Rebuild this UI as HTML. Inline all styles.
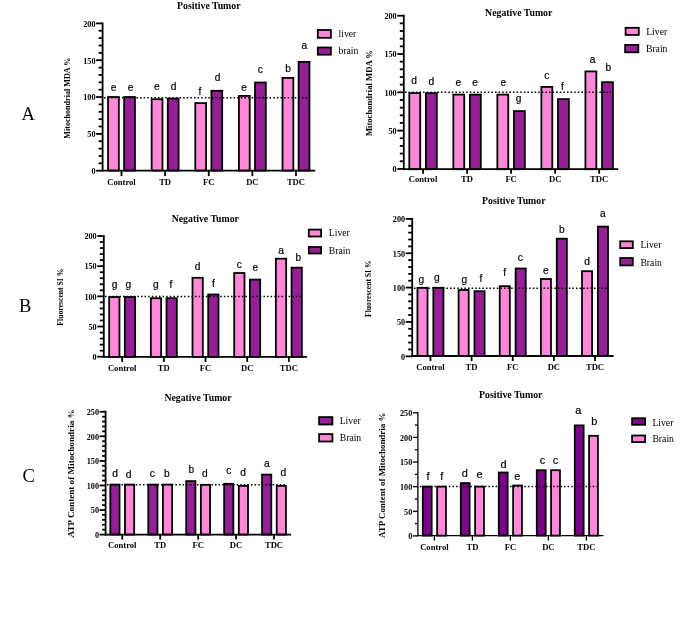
<!DOCTYPE html>
<html><head><meta charset="utf-8">
<style>
html,body{margin:0;padding:0;background:#fff;}
body{width:685px;height:643px;overflow:hidden;}
svg{display:block;will-change:transform;filter:blur(0.35px);}
.tk{font-family:'Liberation Serif', serif;font-weight:bold;font-size:8.2px;fill:#000;}
.cat{font-family:'Liberation Serif', serif;font-weight:bold;font-size:8.6px;fill:#000;}
.let{font-family:'Liberation Sans', sans-serif;font-size:10.2px;fill:#000;stroke:#000;stroke-width:0.2px;}
.ttl{font-family:'Liberation Serif', serif;font-weight:bold;font-size:9.8px;fill:#000;}
.yl{font-family:'Liberation Serif', serif;font-weight:bold;fill:#000;}
.leg{font-family:'Liberation Serif', serif;font-size:9.7px;fill:#000;}
.pan{font-family:'Liberation Serif', serif;font-size:18.5px;fill:#000;}
</style></head>
<body>
<svg width="685" height="643" viewBox="0 0 685 643">
<rect x="108.05" y="97" width="10.8" height="73.6" fill="#FF88D8" stroke="#000" stroke-width="1.8"/>
<rect x="124.15" y="97" width="10.8" height="73.6" fill="#952096" stroke="#000" stroke-width="1.8"/>
<rect x="151.67" y="99.2" width="10.8" height="71.4" fill="#FF88D8" stroke="#000" stroke-width="1.8"/>
<rect x="167.77" y="98.6" width="10.8" height="72" fill="#952096" stroke="#000" stroke-width="1.8"/>
<rect x="195.29" y="103.1" width="10.8" height="67.5" fill="#FF88D8" stroke="#000" stroke-width="1.8"/>
<rect x="211.39" y="90.8" width="10.8" height="79.8" fill="#952096" stroke="#000" stroke-width="1.8"/>
<rect x="238.91" y="95.9" width="10.8" height="74.7" fill="#FF88D8" stroke="#000" stroke-width="1.8"/>
<rect x="255.01" y="82.5" width="10.8" height="88.1" fill="#952096" stroke="#000" stroke-width="1.8"/>
<rect x="282.53" y="77.9" width="10.8" height="92.7" fill="#FF88D8" stroke="#000" stroke-width="1.8"/>
<rect x="298.63" y="61.9" width="10.8" height="108.7" fill="#952096" stroke="#000" stroke-width="1.8"/>
<line x1="104" y1="97.7" x2="309.6" y2="97.7" stroke="#000" stroke-width="1.5" stroke-dasharray="1.5 2.1"/>
<line x1="102.6" y1="22.5" x2="102.6" y2="171.5" stroke="#000" stroke-width="1.8"/>
<line x1="101.7" y1="170.6" x2="315.3" y2="170.6" stroke="#000" stroke-width="1.8"/>
<line x1="96.1" y1="170.7" x2="102.6" y2="170.7" stroke="#000" stroke-width="1.8"/>
<text x="95.5" y="174" text-anchor="end" class="tk">0</text>
<line x1="98.6" y1="163.33" x2="102.6" y2="163.33" stroke="#000" stroke-width="1.8"/>
<line x1="98.6" y1="155.97" x2="102.6" y2="155.97" stroke="#000" stroke-width="1.8"/>
<line x1="98.6" y1="148.6" x2="102.6" y2="148.6" stroke="#000" stroke-width="1.8"/>
<line x1="98.6" y1="141.24" x2="102.6" y2="141.24" stroke="#000" stroke-width="1.8"/>
<line x1="96.1" y1="133.88" x2="102.6" y2="133.88" stroke="#000" stroke-width="1.8"/>
<text x="95.5" y="137.18" text-anchor="end" class="tk">50</text>
<line x1="98.6" y1="126.51" x2="102.6" y2="126.51" stroke="#000" stroke-width="1.8"/>
<line x1="98.6" y1="119.14" x2="102.6" y2="119.14" stroke="#000" stroke-width="1.8"/>
<line x1="98.6" y1="111.78" x2="102.6" y2="111.78" stroke="#000" stroke-width="1.8"/>
<line x1="98.6" y1="104.41" x2="102.6" y2="104.41" stroke="#000" stroke-width="1.8"/>
<line x1="96.1" y1="97.05" x2="102.6" y2="97.05" stroke="#000" stroke-width="1.8"/>
<text x="95.5" y="100.35" text-anchor="end" class="tk">100</text>
<line x1="98.6" y1="89.68" x2="102.6" y2="89.68" stroke="#000" stroke-width="1.8"/>
<line x1="98.6" y1="82.32" x2="102.6" y2="82.32" stroke="#000" stroke-width="1.8"/>
<line x1="98.6" y1="74.95" x2="102.6" y2="74.95" stroke="#000" stroke-width="1.8"/>
<line x1="98.6" y1="67.59" x2="102.6" y2="67.59" stroke="#000" stroke-width="1.8"/>
<line x1="96.1" y1="60.22" x2="102.6" y2="60.22" stroke="#000" stroke-width="1.8"/>
<text x="95.5" y="63.52" text-anchor="end" class="tk">150</text>
<line x1="98.6" y1="52.86" x2="102.6" y2="52.86" stroke="#000" stroke-width="1.8"/>
<line x1="98.6" y1="45.49" x2="102.6" y2="45.49" stroke="#000" stroke-width="1.8"/>
<line x1="98.6" y1="38.13" x2="102.6" y2="38.13" stroke="#000" stroke-width="1.8"/>
<line x1="98.6" y1="30.76" x2="102.6" y2="30.76" stroke="#000" stroke-width="1.8"/>
<line x1="96.1" y1="23.4" x2="102.6" y2="23.4" stroke="#000" stroke-width="1.8"/>
<text x="95.5" y="26.7" text-anchor="end" class="tk">200</text>
<line x1="121.5" y1="170.6" x2="121.5" y2="176.1" stroke="#000" stroke-width="1.8"/>
<text x="121.5" y="184.9" text-anchor="middle" class="cat">Control</text>
<line x1="165.12" y1="170.6" x2="165.12" y2="176.1" stroke="#000" stroke-width="1.8"/>
<text x="165.12" y="184.9" text-anchor="middle" class="cat">TD</text>
<line x1="208.74" y1="170.6" x2="208.74" y2="176.1" stroke="#000" stroke-width="1.8"/>
<text x="208.74" y="184.9" text-anchor="middle" class="cat">FC</text>
<line x1="252.36" y1="170.6" x2="252.36" y2="176.1" stroke="#000" stroke-width="1.8"/>
<text x="252.36" y="184.9" text-anchor="middle" class="cat">DC</text>
<line x1="295.98" y1="170.6" x2="295.98" y2="176.1" stroke="#000" stroke-width="1.8"/>
<text x="295.98" y="184.9" text-anchor="middle" class="cat">TDC</text>
<text x="113.7" y="91.3" text-anchor="middle" class="let">e</text>
<text x="130.7" y="90.5" text-anchor="middle" class="let">e</text>
<text x="156.9" y="90.1" text-anchor="middle" class="let">e</text>
<text x="173.6" y="89.9" text-anchor="middle" class="let">d</text>
<text x="200" y="94.7" text-anchor="middle" class="let">f</text>
<text x="217.7" y="81" text-anchor="middle" class="let">d</text>
<text x="244" y="90.8" text-anchor="middle" class="let">e</text>
<text x="260.4" y="73.1" text-anchor="middle" class="let">c</text>
<text x="288.1" y="71.8" text-anchor="middle" class="let">b</text>
<text x="304.3" y="48.9" text-anchor="middle" class="let">a</text>
<text x="177.1" y="8.9" class="ttl">Positive Tumor</text>
<text transform="translate(70.27 98.2) rotate(-90)" text-anchor="middle" class="yl" style="font-size:8.1px">Mitochondrial MDA %</text>
<rect x="317.8" y="30" width="13.1" height="7.8" fill="#FF88D8" stroke="#000" stroke-width="1.8"/>
<text x="338.5" y="36.9" class="leg">liver</text>
<rect x="317.8" y="47.5" width="13.1" height="7.2" fill="#952096" stroke="#000" stroke-width="1.8"/>
<text x="338.5" y="53.9" class="leg">brain</text>
<rect x="409.3" y="93.1" width="10.9" height="76.1" fill="#FF88D8" stroke="#000" stroke-width="1.8"/>
<rect x="425.9" y="93.1" width="10.9" height="76.1" fill="#952096" stroke="#000" stroke-width="1.8"/>
<rect x="453.33" y="94.6" width="10.9" height="74.6" fill="#FF88D8" stroke="#000" stroke-width="1.8"/>
<rect x="469.93" y="94.6" width="10.9" height="74.6" fill="#952096" stroke="#000" stroke-width="1.8"/>
<rect x="497.36" y="94.6" width="10.9" height="74.6" fill="#FF88D8" stroke="#000" stroke-width="1.8"/>
<rect x="513.96" y="111.1" width="10.9" height="58.1" fill="#952096" stroke="#000" stroke-width="1.8"/>
<rect x="541.39" y="86.9" width="10.9" height="82.3" fill="#FF88D8" stroke="#000" stroke-width="1.8"/>
<rect x="557.99" y="99.1" width="10.9" height="70.1" fill="#952096" stroke="#000" stroke-width="1.8"/>
<rect x="585.42" y="71.4" width="10.9" height="97.8" fill="#FF88D8" stroke="#000" stroke-width="1.8"/>
<rect x="602.02" y="82.2" width="10.9" height="87" fill="#952096" stroke="#000" stroke-width="1.8"/>
<line x1="405" y1="92.3" x2="611" y2="92.3" stroke="#000" stroke-width="1.5" stroke-dasharray="1.5 2.1"/>
<line x1="403.8" y1="14.8" x2="403.8" y2="170.1" stroke="#000" stroke-width="1.8"/>
<line x1="402.9" y1="169.2" x2="618.2" y2="169.2" stroke="#000" stroke-width="1.8"/>
<line x1="397.3" y1="168.9" x2="403.8" y2="168.9" stroke="#000" stroke-width="1.8"/>
<text x="396.7" y="172.2" text-anchor="end" class="tk">0</text>
<line x1="399.8" y1="161.24" x2="403.8" y2="161.24" stroke="#000" stroke-width="1.8"/>
<line x1="399.8" y1="153.58" x2="403.8" y2="153.58" stroke="#000" stroke-width="1.8"/>
<line x1="399.8" y1="145.92" x2="403.8" y2="145.92" stroke="#000" stroke-width="1.8"/>
<line x1="399.8" y1="138.26" x2="403.8" y2="138.26" stroke="#000" stroke-width="1.8"/>
<line x1="397.3" y1="130.6" x2="403.8" y2="130.6" stroke="#000" stroke-width="1.8"/>
<text x="396.7" y="133.9" text-anchor="end" class="tk">50</text>
<line x1="399.8" y1="122.94" x2="403.8" y2="122.94" stroke="#000" stroke-width="1.8"/>
<line x1="399.8" y1="115.28" x2="403.8" y2="115.28" stroke="#000" stroke-width="1.8"/>
<line x1="399.8" y1="107.62" x2="403.8" y2="107.62" stroke="#000" stroke-width="1.8"/>
<line x1="399.8" y1="99.96" x2="403.8" y2="99.96" stroke="#000" stroke-width="1.8"/>
<line x1="397.3" y1="92.3" x2="403.8" y2="92.3" stroke="#000" stroke-width="1.8"/>
<text x="396.7" y="95.6" text-anchor="end" class="tk">100</text>
<line x1="399.8" y1="84.64" x2="403.8" y2="84.64" stroke="#000" stroke-width="1.8"/>
<line x1="399.8" y1="76.98" x2="403.8" y2="76.98" stroke="#000" stroke-width="1.8"/>
<line x1="399.8" y1="69.32" x2="403.8" y2="69.32" stroke="#000" stroke-width="1.8"/>
<line x1="399.8" y1="61.66" x2="403.8" y2="61.66" stroke="#000" stroke-width="1.8"/>
<line x1="397.3" y1="54" x2="403.8" y2="54" stroke="#000" stroke-width="1.8"/>
<text x="396.7" y="57.3" text-anchor="end" class="tk">150</text>
<line x1="399.8" y1="46.34" x2="403.8" y2="46.34" stroke="#000" stroke-width="1.8"/>
<line x1="399.8" y1="38.68" x2="403.8" y2="38.68" stroke="#000" stroke-width="1.8"/>
<line x1="399.8" y1="31.02" x2="403.8" y2="31.02" stroke="#000" stroke-width="1.8"/>
<line x1="399.8" y1="23.36" x2="403.8" y2="23.36" stroke="#000" stroke-width="1.8"/>
<line x1="397.3" y1="15.7" x2="403.8" y2="15.7" stroke="#000" stroke-width="1.8"/>
<text x="396.7" y="19" text-anchor="end" class="tk">200</text>
<line x1="423.05" y1="169.2" x2="423.05" y2="173.7" stroke="#000" stroke-width="1.8"/>
<text x="423.05" y="181.9" text-anchor="middle" class="cat">Control</text>
<line x1="467.08" y1="169.2" x2="467.08" y2="173.7" stroke="#000" stroke-width="1.8"/>
<text x="467.08" y="181.9" text-anchor="middle" class="cat">TD</text>
<line x1="511.11" y1="169.2" x2="511.11" y2="173.7" stroke="#000" stroke-width="1.8"/>
<text x="511.11" y="181.9" text-anchor="middle" class="cat">FC</text>
<line x1="555.14" y1="169.2" x2="555.14" y2="173.7" stroke="#000" stroke-width="1.8"/>
<text x="555.14" y="181.9" text-anchor="middle" class="cat">DC</text>
<line x1="599.17" y1="169.2" x2="599.17" y2="173.7" stroke="#000" stroke-width="1.8"/>
<text x="599.17" y="181.9" text-anchor="middle" class="cat">TDC</text>
<text x="414.2" y="84" text-anchor="middle" class="let">d</text>
<text x="431.3" y="84.9" text-anchor="middle" class="let">d</text>
<text x="458.3" y="86.3" text-anchor="middle" class="let">e</text>
<text x="475" y="86.3" text-anchor="middle" class="let">e</text>
<text x="503.4" y="85.9" text-anchor="middle" class="let">e</text>
<text x="518.6" y="101.5" text-anchor="middle" class="let">g</text>
<text x="546.9" y="78.8" text-anchor="middle" class="let">c</text>
<text x="562.3" y="90" text-anchor="middle" class="let">f</text>
<text x="592.7" y="62.5" text-anchor="middle" class="let">a</text>
<text x="608.4" y="70.5" text-anchor="middle" class="let">b</text>
<text x="485.1" y="15.8" class="ttl">Negative Tumor</text>
<text transform="translate(372.44 93.1) rotate(-90)" text-anchor="middle" class="yl" style="font-size:8.6px">Mitochondrial MDA %</text>
<rect x="625.6" y="27.8" width="13.2" height="7.1" fill="#FF88D8" stroke="#000" stroke-width="1.8"/>
<text x="646.2" y="34.8" class="leg">Liver</text>
<rect x="625.1" y="44.9" width="13.2" height="7.4" fill="#952096" stroke="#000" stroke-width="1.8"/>
<text x="645.9" y="51.9" class="leg">Brain</text>
<rect x="109.15" y="297" width="10.3" height="59.9" fill="#FF88D8" stroke="#000" stroke-width="1.8"/>
<rect x="124.85" y="297" width="10.3" height="59.9" fill="#952096" stroke="#000" stroke-width="1.8"/>
<rect x="150.83" y="298.2" width="10.3" height="58.7" fill="#FF88D8" stroke="#000" stroke-width="1.8"/>
<rect x="166.53" y="298.2" width="10.3" height="58.7" fill="#952096" stroke="#000" stroke-width="1.8"/>
<rect x="192.51" y="277.8" width="10.3" height="79.1" fill="#FF88D8" stroke="#000" stroke-width="1.8"/>
<rect x="208.21" y="294.5" width="10.3" height="62.4" fill="#952096" stroke="#000" stroke-width="1.8"/>
<rect x="234.19" y="273" width="10.3" height="83.9" fill="#FF88D8" stroke="#000" stroke-width="1.8"/>
<rect x="249.89" y="279.6" width="10.3" height="77.3" fill="#952096" stroke="#000" stroke-width="1.8"/>
<rect x="275.87" y="258.7" width="10.3" height="98.2" fill="#FF88D8" stroke="#000" stroke-width="1.8"/>
<rect x="291.57" y="267.7" width="10.3" height="89.2" fill="#952096" stroke="#000" stroke-width="1.8"/>
<line x1="105" y1="296.4" x2="300.5" y2="296.4" stroke="#000" stroke-width="1.5" stroke-dasharray="1.5 2.1"/>
<line x1="103.8" y1="235.1" x2="103.8" y2="357.8" stroke="#000" stroke-width="1.8"/>
<line x1="102.9" y1="356.9" x2="307.1" y2="356.9" stroke="#000" stroke-width="1.8"/>
<line x1="97.3" y1="356.7" x2="103.8" y2="356.7" stroke="#000" stroke-width="1.8"/>
<text x="96.7" y="360" text-anchor="end" class="tk">0</text>
<line x1="99.8" y1="350.66" x2="103.8" y2="350.66" stroke="#000" stroke-width="1.8"/>
<line x1="99.8" y1="344.63" x2="103.8" y2="344.63" stroke="#000" stroke-width="1.8"/>
<line x1="99.8" y1="338.59" x2="103.8" y2="338.59" stroke="#000" stroke-width="1.8"/>
<line x1="99.8" y1="332.56" x2="103.8" y2="332.56" stroke="#000" stroke-width="1.8"/>
<line x1="97.3" y1="326.52" x2="103.8" y2="326.52" stroke="#000" stroke-width="1.8"/>
<text x="96.7" y="329.82" text-anchor="end" class="tk">50</text>
<line x1="99.8" y1="320.49" x2="103.8" y2="320.49" stroke="#000" stroke-width="1.8"/>
<line x1="99.8" y1="314.45" x2="103.8" y2="314.45" stroke="#000" stroke-width="1.8"/>
<line x1="99.8" y1="308.42" x2="103.8" y2="308.42" stroke="#000" stroke-width="1.8"/>
<line x1="99.8" y1="302.38" x2="103.8" y2="302.38" stroke="#000" stroke-width="1.8"/>
<line x1="97.3" y1="296.35" x2="103.8" y2="296.35" stroke="#000" stroke-width="1.8"/>
<text x="96.7" y="299.65" text-anchor="end" class="tk">100</text>
<line x1="99.8" y1="290.31" x2="103.8" y2="290.31" stroke="#000" stroke-width="1.8"/>
<line x1="99.8" y1="284.28" x2="103.8" y2="284.28" stroke="#000" stroke-width="1.8"/>
<line x1="99.8" y1="278.25" x2="103.8" y2="278.25" stroke="#000" stroke-width="1.8"/>
<line x1="99.8" y1="272.21" x2="103.8" y2="272.21" stroke="#000" stroke-width="1.8"/>
<line x1="97.3" y1="266.17" x2="103.8" y2="266.17" stroke="#000" stroke-width="1.8"/>
<text x="96.7" y="269.47" text-anchor="end" class="tk">150</text>
<line x1="99.8" y1="260.14" x2="103.8" y2="260.14" stroke="#000" stroke-width="1.8"/>
<line x1="99.8" y1="254.1" x2="103.8" y2="254.1" stroke="#000" stroke-width="1.8"/>
<line x1="99.8" y1="248.07" x2="103.8" y2="248.07" stroke="#000" stroke-width="1.8"/>
<line x1="99.8" y1="242.03" x2="103.8" y2="242.03" stroke="#000" stroke-width="1.8"/>
<line x1="97.3" y1="236" x2="103.8" y2="236" stroke="#000" stroke-width="1.8"/>
<text x="96.7" y="239.3" text-anchor="end" class="tk">200</text>
<line x1="122.15" y1="356.9" x2="122.15" y2="361.9" stroke="#000" stroke-width="1.8"/>
<text x="122.15" y="370.5" text-anchor="middle" class="cat">Control</text>
<line x1="163.83" y1="356.9" x2="163.83" y2="361.9" stroke="#000" stroke-width="1.8"/>
<text x="163.83" y="370.5" text-anchor="middle" class="cat">TD</text>
<line x1="205.51" y1="356.9" x2="205.51" y2="361.9" stroke="#000" stroke-width="1.8"/>
<text x="205.51" y="370.5" text-anchor="middle" class="cat">FC</text>
<line x1="247.19" y1="356.9" x2="247.19" y2="361.9" stroke="#000" stroke-width="1.8"/>
<text x="247.19" y="370.5" text-anchor="middle" class="cat">DC</text>
<line x1="288.87" y1="356.9" x2="288.87" y2="361.9" stroke="#000" stroke-width="1.8"/>
<text x="288.87" y="370.5" text-anchor="middle" class="cat">TDC</text>
<text x="114.6" y="287.6" text-anchor="middle" class="let">g</text>
<text x="128.3" y="287.6" text-anchor="middle" class="let">g</text>
<text x="155.8" y="287.6" text-anchor="middle" class="let">g</text>
<text x="170.9" y="288" text-anchor="middle" class="let">f</text>
<text x="197.5" y="269.6" text-anchor="middle" class="let">d</text>
<text x="213.3" y="287.2" text-anchor="middle" class="let">f</text>
<text x="239.4" y="267.8" text-anchor="middle" class="let">c</text>
<text x="255.3" y="271" text-anchor="middle" class="let">e</text>
<text x="281" y="254.4" text-anchor="middle" class="let">a</text>
<text x="298.4" y="261.1" text-anchor="middle" class="let">b</text>
<text x="171.7" y="221.6" class="ttl">Negative Tumor</text>
<text transform="translate(62.74 297.1) rotate(-90)" text-anchor="middle" class="yl" style="font-size:7.7px">Fluorescent SI %</text>
<rect x="308.8" y="229.6" width="12.3" height="6.9" fill="#FF88D8" stroke="#000" stroke-width="1.8"/>
<text x="328.8" y="236.4" class="leg">Liver</text>
<rect x="308.8" y="247" width="12.3" height="6.5" fill="#952096" stroke="#000" stroke-width="1.8"/>
<text x="328.8" y="254.3" class="leg">Brain</text>
<rect x="417.45" y="287.8" width="10.1" height="68.2" fill="#FF88D8" stroke="#000" stroke-width="1.8"/>
<rect x="433.35" y="287.8" width="10.1" height="68.2" fill="#952096" stroke="#000" stroke-width="1.8"/>
<rect x="458.59" y="290" width="10.1" height="66" fill="#FF88D8" stroke="#000" stroke-width="1.8"/>
<rect x="474.49" y="291.2" width="10.1" height="64.8" fill="#952096" stroke="#000" stroke-width="1.8"/>
<rect x="499.73" y="286.2" width="10.1" height="69.8" fill="#FF88D8" stroke="#000" stroke-width="1.8"/>
<rect x="515.63" y="268.5" width="10.1" height="87.5" fill="#952096" stroke="#000" stroke-width="1.8"/>
<rect x="540.87" y="279" width="10.1" height="77" fill="#FF88D8" stroke="#000" stroke-width="1.8"/>
<rect x="556.77" y="238.7" width="10.1" height="117.3" fill="#952096" stroke="#000" stroke-width="1.8"/>
<rect x="582.01" y="271.2" width="10.1" height="84.8" fill="#FF88D8" stroke="#000" stroke-width="1.8"/>
<rect x="597.91" y="226.6" width="10.1" height="129.4" fill="#952096" stroke="#000" stroke-width="1.8"/>
<line x1="414" y1="288.3" x2="606.5" y2="288.3" stroke="#000" stroke-width="1.5" stroke-dasharray="1.5 2.1"/>
<line x1="412.2" y1="218" x2="412.2" y2="356.9" stroke="#000" stroke-width="1.8"/>
<line x1="411.3" y1="356" x2="613.6" y2="356" stroke="#000" stroke-width="1.8"/>
<line x1="405.7" y1="356.3" x2="412.2" y2="356.3" stroke="#000" stroke-width="1.8"/>
<text x="405.1" y="359.6" text-anchor="end" class="tk">0</text>
<line x1="408.2" y1="349.43" x2="412.2" y2="349.43" stroke="#000" stroke-width="1.8"/>
<line x1="408.2" y1="342.56" x2="412.2" y2="342.56" stroke="#000" stroke-width="1.8"/>
<line x1="408.2" y1="335.69" x2="412.2" y2="335.69" stroke="#000" stroke-width="1.8"/>
<line x1="408.2" y1="328.82" x2="412.2" y2="328.82" stroke="#000" stroke-width="1.8"/>
<line x1="405.7" y1="321.95" x2="412.2" y2="321.95" stroke="#000" stroke-width="1.8"/>
<text x="405.1" y="325.25" text-anchor="end" class="tk">50</text>
<line x1="408.2" y1="315.08" x2="412.2" y2="315.08" stroke="#000" stroke-width="1.8"/>
<line x1="408.2" y1="308.21" x2="412.2" y2="308.21" stroke="#000" stroke-width="1.8"/>
<line x1="408.2" y1="301.34" x2="412.2" y2="301.34" stroke="#000" stroke-width="1.8"/>
<line x1="408.2" y1="294.47" x2="412.2" y2="294.47" stroke="#000" stroke-width="1.8"/>
<line x1="405.7" y1="287.6" x2="412.2" y2="287.6" stroke="#000" stroke-width="1.8"/>
<text x="405.1" y="290.9" text-anchor="end" class="tk">100</text>
<line x1="408.2" y1="280.73" x2="412.2" y2="280.73" stroke="#000" stroke-width="1.8"/>
<line x1="408.2" y1="273.86" x2="412.2" y2="273.86" stroke="#000" stroke-width="1.8"/>
<line x1="408.2" y1="266.99" x2="412.2" y2="266.99" stroke="#000" stroke-width="1.8"/>
<line x1="408.2" y1="260.12" x2="412.2" y2="260.12" stroke="#000" stroke-width="1.8"/>
<line x1="405.7" y1="253.25" x2="412.2" y2="253.25" stroke="#000" stroke-width="1.8"/>
<text x="405.1" y="256.55" text-anchor="end" class="tk">150</text>
<line x1="408.2" y1="246.38" x2="412.2" y2="246.38" stroke="#000" stroke-width="1.8"/>
<line x1="408.2" y1="239.51" x2="412.2" y2="239.51" stroke="#000" stroke-width="1.8"/>
<line x1="408.2" y1="232.64" x2="412.2" y2="232.64" stroke="#000" stroke-width="1.8"/>
<line x1="408.2" y1="225.77" x2="412.2" y2="225.77" stroke="#000" stroke-width="1.8"/>
<line x1="405.7" y1="218.9" x2="412.2" y2="218.9" stroke="#000" stroke-width="1.8"/>
<text x="405.1" y="222.2" text-anchor="end" class="tk">200</text>
<line x1="430.45" y1="356" x2="430.45" y2="361" stroke="#000" stroke-width="1.8"/>
<text x="430.45" y="370.3" text-anchor="middle" class="cat">Control</text>
<line x1="471.59" y1="356" x2="471.59" y2="361" stroke="#000" stroke-width="1.8"/>
<text x="471.59" y="370.3" text-anchor="middle" class="cat">TD</text>
<line x1="512.73" y1="356" x2="512.73" y2="361" stroke="#000" stroke-width="1.8"/>
<text x="512.73" y="370.3" text-anchor="middle" class="cat">FC</text>
<line x1="553.87" y1="356" x2="553.87" y2="361" stroke="#000" stroke-width="1.8"/>
<text x="553.87" y="370.3" text-anchor="middle" class="cat">DC</text>
<line x1="595.01" y1="356" x2="595.01" y2="361" stroke="#000" stroke-width="1.8"/>
<text x="595.01" y="370.3" text-anchor="middle" class="cat">TDC</text>
<text x="421.4" y="282.5" text-anchor="middle" class="let">g</text>
<text x="436.8" y="280.7" text-anchor="middle" class="let">g</text>
<text x="464.3" y="283.3" text-anchor="middle" class="let">g</text>
<text x="481" y="282.4" text-anchor="middle" class="let">f</text>
<text x="504.6" y="275.9" text-anchor="middle" class="let">f</text>
<text x="520.4" y="261.4" text-anchor="middle" class="let">c</text>
<text x="545.9" y="274.1" text-anchor="middle" class="let">e</text>
<text x="561.8" y="232.6" text-anchor="middle" class="let">b</text>
<text x="587.1" y="265.4" text-anchor="middle" class="let">d</text>
<text x="602.9" y="217.4" text-anchor="middle" class="let">a</text>
<text x="482.1" y="203.8" class="ttl">Positive Tumor</text>
<text transform="translate(371.21 288.7) rotate(-90)" text-anchor="middle" class="yl" style="font-size:7.6px">Fluorescent SI %</text>
<rect x="620.2" y="241.3" width="12.6" height="6.8" fill="#FF88D8" stroke="#000" stroke-width="1.8"/>
<text x="640.4" y="248" class="leg">Liver</text>
<rect x="620.2" y="258" width="12.6" height="7.4" fill="#952096" stroke="#000" stroke-width="1.8"/>
<text x="640.4" y="265.5" class="leg">Brain</text>
<rect x="110.33" y="484.6" width="9.2" height="50" fill="#952096" stroke="#000" stroke-width="1.8"/>
<rect x="124.98" y="484.6" width="9.2" height="50" fill="#FF88D8" stroke="#000" stroke-width="1.8"/>
<rect x="148.27" y="484.6" width="9.2" height="50" fill="#952096" stroke="#000" stroke-width="1.8"/>
<rect x="162.92" y="484.6" width="9.2" height="50" fill="#FF88D8" stroke="#000" stroke-width="1.8"/>
<rect x="186.21" y="481.1" width="9.2" height="53.5" fill="#952096" stroke="#000" stroke-width="1.8"/>
<rect x="200.86" y="484.8" width="9.2" height="49.8" fill="#FF88D8" stroke="#000" stroke-width="1.8"/>
<rect x="224.15" y="483.8" width="9.2" height="50.8" fill="#952096" stroke="#000" stroke-width="1.8"/>
<rect x="238.8" y="485.9" width="9.2" height="48.7" fill="#FF88D8" stroke="#000" stroke-width="1.8"/>
<rect x="262.08" y="474.6" width="9.2" height="60" fill="#952096" stroke="#000" stroke-width="1.8"/>
<rect x="276.73" y="485.9" width="9.2" height="48.7" fill="#FF88D8" stroke="#000" stroke-width="1.8"/>
<line x1="107" y1="484.8" x2="285.5" y2="484.8" stroke="#000" stroke-width="1.5" stroke-dasharray="1.5 2.1"/>
<line x1="105.6" y1="410.83" x2="105.6" y2="535.5" stroke="#000" stroke-width="1.8"/>
<line x1="104.7" y1="534.6" x2="291.1" y2="534.6" stroke="#000" stroke-width="1.8"/>
<line x1="99.6" y1="534.6" x2="105.6" y2="534.6" stroke="#000" stroke-width="1.8"/>
<text x="99" y="537.9" text-anchor="end" class="tk">0</text>
<line x1="102.1" y1="529.69" x2="105.6" y2="529.69" stroke="#000" stroke-width="1.8"/>
<line x1="102.1" y1="524.77" x2="105.6" y2="524.77" stroke="#000" stroke-width="1.8"/>
<line x1="102.1" y1="519.86" x2="105.6" y2="519.86" stroke="#000" stroke-width="1.8"/>
<line x1="102.1" y1="514.94" x2="105.6" y2="514.94" stroke="#000" stroke-width="1.8"/>
<line x1="99.6" y1="510.03" x2="105.6" y2="510.03" stroke="#000" stroke-width="1.8"/>
<text x="99" y="513.33" text-anchor="end" class="tk">50</text>
<line x1="102.1" y1="505.11" x2="105.6" y2="505.11" stroke="#000" stroke-width="1.8"/>
<line x1="102.1" y1="500.2" x2="105.6" y2="500.2" stroke="#000" stroke-width="1.8"/>
<line x1="102.1" y1="495.28" x2="105.6" y2="495.28" stroke="#000" stroke-width="1.8"/>
<line x1="102.1" y1="490.37" x2="105.6" y2="490.37" stroke="#000" stroke-width="1.8"/>
<line x1="99.6" y1="485.45" x2="105.6" y2="485.45" stroke="#000" stroke-width="1.8"/>
<text x="99" y="488.75" text-anchor="end" class="tk">100</text>
<line x1="102.1" y1="480.54" x2="105.6" y2="480.54" stroke="#000" stroke-width="1.8"/>
<line x1="102.1" y1="475.62" x2="105.6" y2="475.62" stroke="#000" stroke-width="1.8"/>
<line x1="102.1" y1="470.71" x2="105.6" y2="470.71" stroke="#000" stroke-width="1.8"/>
<line x1="102.1" y1="465.79" x2="105.6" y2="465.79" stroke="#000" stroke-width="1.8"/>
<line x1="99.6" y1="460.88" x2="105.6" y2="460.88" stroke="#000" stroke-width="1.8"/>
<text x="99" y="464.18" text-anchor="end" class="tk">150</text>
<line x1="102.1" y1="455.96" x2="105.6" y2="455.96" stroke="#000" stroke-width="1.8"/>
<line x1="102.1" y1="451.05" x2="105.6" y2="451.05" stroke="#000" stroke-width="1.8"/>
<line x1="102.1" y1="446.13" x2="105.6" y2="446.13" stroke="#000" stroke-width="1.8"/>
<line x1="102.1" y1="441.22" x2="105.6" y2="441.22" stroke="#000" stroke-width="1.8"/>
<line x1="99.6" y1="436.3" x2="105.6" y2="436.3" stroke="#000" stroke-width="1.8"/>
<text x="99" y="439.6" text-anchor="end" class="tk">200</text>
<line x1="102.1" y1="431.38" x2="105.6" y2="431.38" stroke="#000" stroke-width="1.8"/>
<line x1="102.1" y1="426.47" x2="105.6" y2="426.47" stroke="#000" stroke-width="1.8"/>
<line x1="102.1" y1="421.56" x2="105.6" y2="421.56" stroke="#000" stroke-width="1.8"/>
<line x1="102.1" y1="416.64" x2="105.6" y2="416.64" stroke="#000" stroke-width="1.8"/>
<line x1="99.6" y1="411.73" x2="105.6" y2="411.73" stroke="#000" stroke-width="1.8"/>
<text x="99" y="415.03" text-anchor="end" class="tk">250</text>
<line x1="122.25" y1="534.6" x2="122.25" y2="539.6" stroke="#000" stroke-width="1.8"/>
<text x="122.25" y="548.2" text-anchor="middle" class="cat">Control</text>
<line x1="160.19" y1="534.6" x2="160.19" y2="539.6" stroke="#000" stroke-width="1.8"/>
<text x="160.19" y="548.2" text-anchor="middle" class="cat">TD</text>
<line x1="198.13" y1="534.6" x2="198.13" y2="539.6" stroke="#000" stroke-width="1.8"/>
<text x="198.13" y="548.2" text-anchor="middle" class="cat">FC</text>
<line x1="236.07" y1="534.6" x2="236.07" y2="539.6" stroke="#000" stroke-width="1.8"/>
<text x="236.07" y="548.2" text-anchor="middle" class="cat">DC</text>
<line x1="274.01" y1="534.6" x2="274.01" y2="539.6" stroke="#000" stroke-width="1.8"/>
<text x="274.01" y="548.2" text-anchor="middle" class="cat">TDC</text>
<text x="115" y="477" text-anchor="middle" class="let">d</text>
<text x="128.6" y="477.5" text-anchor="middle" class="let">d</text>
<text x="152.4" y="477" text-anchor="middle" class="let">c</text>
<text x="166.8" y="476.6" text-anchor="middle" class="let">b</text>
<text x="191.4" y="472.7" text-anchor="middle" class="let">b</text>
<text x="204.9" y="477" text-anchor="middle" class="let">d</text>
<text x="228.8" y="474.2" text-anchor="middle" class="let">c</text>
<text x="243.1" y="476" text-anchor="middle" class="let">d</text>
<text x="266.8" y="466.5" text-anchor="middle" class="let">a</text>
<text x="283.4" y="476" text-anchor="middle" class="let">d</text>
<text x="164.4" y="400.9" class="ttl">Negative Tumor</text>
<text transform="translate(73.72 473.4) rotate(-90)" text-anchor="middle" class="yl" style="font-size:9.15px">ATP Content of Mitochondria %</text>
<rect x="319.1" y="417.1" width="13.3" height="7.4" fill="#952096" stroke="#000" stroke-width="1.8"/>
<text x="339.7" y="424.2" class="leg">Liver</text>
<rect x="319.1" y="434.1" width="13.3" height="7.4" fill="#FF88D8" stroke="#000" stroke-width="1.8"/>
<text x="339.7" y="441.4" class="leg">Brain</text>
<rect x="422.82" y="486.6" width="8.85" height="49" fill="#7B0488" stroke="#000" stroke-width="1.8"/>
<rect x="437.12" y="486.6" width="8.85" height="49" fill="#FF88D8" stroke="#000" stroke-width="1.8"/>
<rect x="460.81" y="483.1" width="8.85" height="52.5" fill="#7B0488" stroke="#000" stroke-width="1.8"/>
<rect x="475.11" y="486.6" width="8.85" height="49" fill="#FF88D8" stroke="#000" stroke-width="1.8"/>
<rect x="498.8" y="472.5" width="8.85" height="63.1" fill="#7B0488" stroke="#000" stroke-width="1.8"/>
<rect x="513.1" y="485.5" width="8.85" height="50.1" fill="#FF88D8" stroke="#000" stroke-width="1.8"/>
<rect x="536.79" y="470.2" width="8.85" height="65.4" fill="#7B0488" stroke="#000" stroke-width="1.8"/>
<rect x="551.09" y="470.2" width="8.85" height="65.4" fill="#FF88D8" stroke="#000" stroke-width="1.8"/>
<rect x="574.78" y="425.4" width="8.85" height="110.2" fill="#7B0488" stroke="#000" stroke-width="1.8"/>
<rect x="589.08" y="435.8" width="8.85" height="99.8" fill="#FF88D8" stroke="#000" stroke-width="1.8"/>
<line x1="420" y1="486.5" x2="597" y2="486.5" stroke="#000" stroke-width="1.5" stroke-dasharray="1.5 2.1"/>
<line x1="417.9" y1="412.15" x2="417.9" y2="536.25" stroke="#000" stroke-width="1.3"/>
<line x1="417.25" y1="535.6" x2="603.5" y2="535.6" stroke="#000" stroke-width="1.3"/>
<line x1="412.9" y1="535.9" x2="417.9" y2="535.9" stroke="#000" stroke-width="1.3"/>
<text x="412.3" y="539.2" text-anchor="end" class="tk">0</text>
<line x1="414.9" y1="523.59" x2="417.9" y2="523.59" stroke="#000" stroke-width="1.3"/>
<line x1="412.9" y1="511.28" x2="417.9" y2="511.28" stroke="#000" stroke-width="1.3"/>
<text x="412.3" y="514.58" text-anchor="end" class="tk">50</text>
<line x1="414.9" y1="498.97" x2="417.9" y2="498.97" stroke="#000" stroke-width="1.3"/>
<line x1="412.9" y1="486.66" x2="417.9" y2="486.66" stroke="#000" stroke-width="1.3"/>
<text x="412.3" y="489.96" text-anchor="end" class="tk">100</text>
<line x1="414.9" y1="474.35" x2="417.9" y2="474.35" stroke="#000" stroke-width="1.3"/>
<line x1="412.9" y1="462.04" x2="417.9" y2="462.04" stroke="#000" stroke-width="1.3"/>
<text x="412.3" y="465.34" text-anchor="end" class="tk">150</text>
<line x1="414.9" y1="449.73" x2="417.9" y2="449.73" stroke="#000" stroke-width="1.3"/>
<line x1="412.9" y1="437.42" x2="417.9" y2="437.42" stroke="#000" stroke-width="1.3"/>
<text x="412.3" y="440.72" text-anchor="end" class="tk">200</text>
<line x1="414.9" y1="425.11" x2="417.9" y2="425.11" stroke="#000" stroke-width="1.3"/>
<line x1="412.9" y1="412.8" x2="417.9" y2="412.8" stroke="#000" stroke-width="1.3"/>
<text x="412.3" y="416.1" text-anchor="end" class="tk">250</text>
<line x1="434.4" y1="535.6" x2="434.4" y2="540.6" stroke="#000" stroke-width="1.3"/>
<text x="434.4" y="549.8" text-anchor="middle" class="cat">Control</text>
<line x1="472.39" y1="535.6" x2="472.39" y2="540.6" stroke="#000" stroke-width="1.3"/>
<text x="472.39" y="549.8" text-anchor="middle" class="cat">TD</text>
<line x1="510.38" y1="535.6" x2="510.38" y2="540.6" stroke="#000" stroke-width="1.3"/>
<text x="510.38" y="549.8" text-anchor="middle" class="cat">FC</text>
<line x1="548.37" y1="535.6" x2="548.37" y2="540.6" stroke="#000" stroke-width="1.3"/>
<text x="548.37" y="549.8" text-anchor="middle" class="cat">DC</text>
<line x1="586.36" y1="535.6" x2="586.36" y2="540.6" stroke="#000" stroke-width="1.3"/>
<text x="586.36" y="549.8" text-anchor="middle" class="cat">TDC</text>
<text x="427.9" y="480" text-anchor="middle" class="let" style="font-size:10.9px">f</text>
<text x="441.8" y="480.4" text-anchor="middle" class="let" style="font-size:10.9px">f</text>
<text x="464.7" y="476.8" text-anchor="middle" class="let" style="font-size:10.9px">d</text>
<text x="479.6" y="478" text-anchor="middle" class="let" style="font-size:10.9px">e</text>
<text x="503.5" y="467.8" text-anchor="middle" class="let" style="font-size:10.9px">d</text>
<text x="517.4" y="480.4" text-anchor="middle" class="let" style="font-size:10.9px">e</text>
<text x="542.4" y="463.5" text-anchor="middle" class="let" style="font-size:10.9px">c</text>
<text x="555.6" y="464" text-anchor="middle" class="let" style="font-size:10.9px">c</text>
<text x="578.3" y="414.2" text-anchor="middle" class="let" style="font-size:10.9px">a</text>
<text x="594.2" y="424.8" text-anchor="middle" class="let" style="font-size:10.9px">b</text>
<text x="479" y="397.8" class="ttl">Positive Tumor</text>
<text transform="translate(384.55 475.3) rotate(-90)" text-anchor="middle" class="yl" style="font-size:8.95px">ATP Content of Mitochondria %</text>
<rect x="632.1" y="418.2" width="13" height="6.6" fill="#7B0488" stroke="#000" stroke-width="1.8"/>
<text x="652.4" y="425.6" class="leg">Liver</text>
<rect x="632.1" y="435.5" width="13" height="6.6" fill="#FF88D8" stroke="#000" stroke-width="1.8"/>
<text x="652.4" y="442.3" class="leg">Brain</text>
<text x="21.5" y="119.5" class="pan">A</text>
<text x="18.9" y="311.8" class="pan">B</text>
<text x="22.6" y="482.1" class="pan">C</text>
</svg>
</body></html>
